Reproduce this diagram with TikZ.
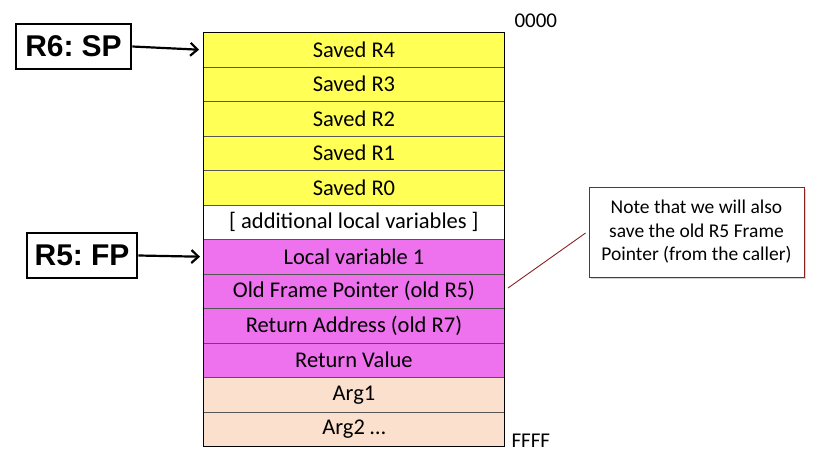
\documentclass[tikz,border=0pt]{standalone}
\usepackage{fontspec}
\setmainfont{Carlito}
\newfontfamily\arialfont{Liberation Sans}
\usetikzlibrary{arrows.meta,shadows}
\definecolor{stkyellow}{HTML}{FFFF55}
\definecolor{stkpink}{HTML}{EE72EE}
\definecolor{stkpeach}{HTML}{FBE0CD}
\definecolor{stkline}{HTML}{555555}
\definecolor{notered}{HTML}{8B2222}
\begin{document}
\begin{tikzpicture}[x=1pt,y=-1pt,
  cell/.style={draw=stkline,line width=0.9pt,minimum width=301pt,minimum height=34.5pt,inner sep=0pt,anchor=north west,font=\fontsize{22.5}{24}\selectfont},
  regbox/.style={draw=black,line width=2.8pt,inner sep=2pt,minimum height=45pt,font=\arialfont\bfseries\fontsize{30}{32}\selectfont},
  ptr/.style={-{Straight Barb[length=7pt,width=13pt,line width=2.2pt]},line width=2.2pt},
  addr/.style={font=\fontsize{21}{23}\selectfont,anchor=west}]
\useasboundingbox (0,0) rectangle (818,466);
\node[cell,fill=stkyellow] (r4) at (203,32) {Saved R4};
\node[cell,fill=stkyellow] (r3) at (203,66.5) {Saved R3};
\node[cell,fill=stkyellow] (r2) at (203,101) {Saved R2};
\node[cell,fill=stkyellow] (r1) at (203,135.5) {Saved R1};
\node[cell,fill=stkyellow] (r0) at (203,170) {Saved R0};
\node[cell,fill=white] (add) at (203,204.5) {[ additional local variables ]};
\node[cell,fill=stkpink] (lv1) at (203,239) {Local variable 1};
\node[cell,fill=stkpink] (ofp) at (203,273.5) {Old Frame Pointer (old R5)};
\node[cell,fill=stkpink] (ra) at (203,308) {Return Address (old R7)};
\node[cell,fill=stkpink] (rv) at (203,342.5) {Return Value};
\node[cell,fill=stkpeach] (a1) at (203,377) {Arg1};
\node[cell,fill=stkpeach] (a2) at (203,411.5) {Arg2 \dots};
\draw[black,line width=0.9pt] (r4.north west) rectangle (a2.south east);
\node[addr] (top) at (511,21) {0000};
\node[addr] (bot) at (508,441) {FFFF};
\node[regbox,minimum width=115pt] (sp) at (73.5,46.5) {R6:\hspace{-0.1em} SP};
\node[regbox,minimum width=110pt] (fp) at (82,255.5) {R5:\hspace{-0.1em} FP};
\draw[ptr] (sp.east) -- ([xshift=-4pt]r4.west);
\draw[ptr] (fp.east) -- ([xshift=-3pt]lv1.west);
\node[draw=notered,line width=0.9pt,fill=white,drop shadow={shadow xshift=2pt,shadow yshift=-2pt,opacity=0.35},
  minimum width=215pt,minimum height=90pt,align=center,font=\fontsize{19.5}{23.5}\selectfont] (note) at (696.5,232)
  {Note that we will also\\save the old R5 Frame\\Pointer (from the caller)};
\coordinate (tip) at (508,288);
\draw[notered,line width=0.9pt] (tip) -- ([xshift=-3pt,yshift=-1pt]note.west);
\end{tikzpicture}
\end{document}
